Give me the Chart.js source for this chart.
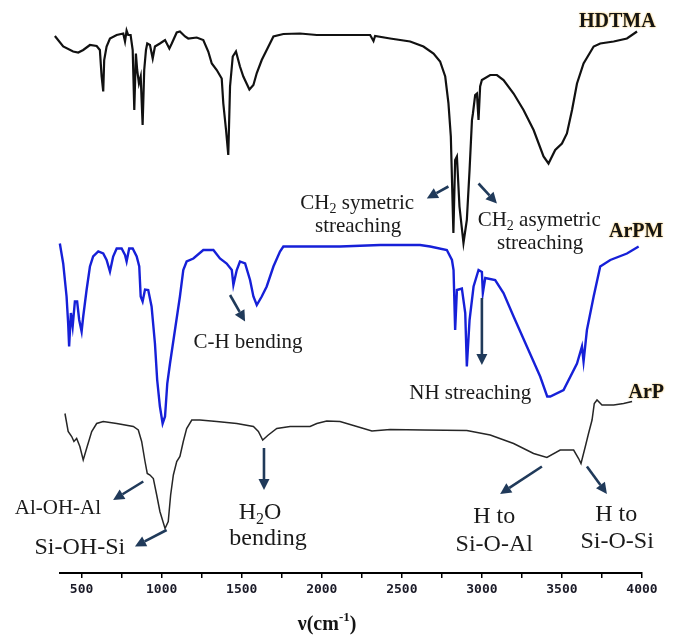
<!DOCTYPE html>
<html>
<head>
<meta charset="utf-8">
<script src="https://cdn.jsdelivr.net/npm/chart.js@4/dist/chart.umd.min.js"></script>
<style>
  html, body { margin: 0; padding: 0; background: #ffffff; }
  #wrap { width: 680px; height: 635px; }
</style>
</head>
<body>
<div id="wrap"><canvas id="c" width="680" height="635"></canvas></div>
<script>
// ---- Data (wavenumber in cm^-1, offset transmittance in arbitrary units) ----
const wnHDTMA = [333, 385, 447, 479, 510, 552, 594, 614, 625, 635, 641, 656, 677, 719, 760, 771, 781, 791, 806, 819, 829, 839, 847, 858, 869, 881, 891, 902, 910, 927, 944, 958, 989, 1021, 1048, 1063, 1094, 1114, 1146, 1166, 1219, 1260, 1291, 1313, 1344, 1375, 1385, 1402, 1416, 1427, 1444, 1464, 1489, 1510, 1548, 1573, 1594, 1625, 1656, 1698, 1760, 1864, 1969, 2177, 2302, 2323, 2333, 2427, 2552, 2635, 2698, 2739, 2771, 2791, 2806, 2822, 2833, 2844, 2860, 2885, 2906, 2923, 2938, 2944, 2958, 2969, 2979, 2989, 3000, 3052, 3094, 3135, 3198, 3260, 3323, 3385, 3416, 3458, 3500, 3531, 3563, 3594, 3635, 3698, 3739, 3823, 3906, 3969];
const tHDTMA = [107.4, 105.3, 104.3, 104.1, 104.6, 105.6, 105.4, 104.6, 99.3, 96.3, 102.6, 105.3, 106.9, 107.6, 107.9, 106.3, 108.5, 107.6, 107.6, 104.6, 92.6, 103.9, 100.6, 97.9, 99.3, 89.6, 100.6, 104.6, 105.9, 105.6, 102.9, 105.3, 105.9, 106.6, 104.9, 105.9, 108.1, 108.3, 107.3, 106.9, 107.1, 106.6, 104.3, 101.9, 100.6, 98.9, 93.9, 88.6, 83.6, 97.3, 103.3, 104.3, 101.3, 99.3, 96.7, 97.6, 100.0, 102.6, 104.6, 107.3, 107.8, 107.9, 107.6, 107.6, 107.6, 106.4, 107.4, 106.9, 106.3, 105.3, 103.9, 102.3, 99.3, 94.0, 87.3, 68.0, 82.6, 83.3, 73.3, 66.0, 70.6, 80.6, 90.6, 91.9, 95.6, 95.9, 90.6, 97.3, 98.6, 99.6, 99.6, 98.6, 95.9, 92.6, 88.6, 83.3, 81.9, 84.6, 85.9, 87.9, 92.6, 97.9, 101.9, 105.3, 105.9, 106.3, 106.9, 108.3];

const wnArPM = [364, 385, 406, 416, 422, 433, 444, 458, 472, 485, 500, 510, 531, 552, 572, 604, 635, 656, 677, 697, 719, 750, 771, 781, 797, 819, 844, 860, 869, 881, 896, 916, 937, 958, 972, 989, 1006, 1021, 1035, 1052, 1083, 1114, 1135, 1156, 1198, 1260, 1323, 1364, 1406, 1438, 1448, 1469, 1489, 1521, 1552, 1573, 1594, 1625, 1656, 1698, 1739, 1760, 1844, 2114, 2364, 2614, 2677, 2781, 2813, 2823, 2833, 2844, 2875, 2896, 2906, 2923, 2948, 2979, 3000, 3006, 3021, 3083, 3135, 3198, 3281, 3364, 3408, 3427, 3510, 3594, 3625, 3635, 3656, 3698, 3739, 3802, 3906, 3979];
const tArPM = [65.9, 61.9, 55.3, 49.9, 45.3, 52.0, 49.3, 54.3, 54.3, 50.6, 48.3, 51.3, 56.6, 61.3, 63.3, 64.3, 63.9, 62.6, 60.3, 63.3, 64.9, 64.9, 63.6, 62.3, 64.9, 64.9, 63.3, 61.3, 55.3, 54.3, 56.7, 56.6, 53.3, 45.9, 38.6, 33.3, 29.9, 31.3, 37.9, 41.9, 48.6, 55.3, 60.6, 62.3, 62.9, 64.6, 64.6, 62.9, 61.9, 60.6, 57.6, 60.6, 62.3, 61.9, 58.6, 55.3, 53.6, 55.3, 57.3, 61.3, 64.3, 65.3, 65.3, 65.3, 65.6, 65.6, 65.3, 64.6, 62.6, 60.6, 48.6, 56.6, 56.9, 52.0, 41.3, 50.6, 57.3, 60.6, 60.2, 56.0, 59.0, 58.6, 56.0, 51.3, 45.3, 39.3, 35.3, 35.3, 36.6, 41.9, 45.3, 42.3, 48.6, 55.3, 61.3, 62.6, 63.9, 65.3];

const wnArP = [396, 416, 438, 452, 469, 489, 510, 531, 563, 594, 635, 719, 823, 854, 875, 896, 910, 927, 948, 969, 989, 1021, 1041, 1056, 1073, 1094, 1114, 1135, 1156, 1188, 1239, 1344, 1469, 1573, 1604, 1631, 1666, 1719, 1802, 1927, 1969, 2031, 2114, 2219, 2313, 2427, 2635, 2906, 3052, 3198, 3323, 3406, 3489, 3573, 3604, 3619, 3646, 3666, 3688, 3702, 3719, 3750, 3823, 3885, 3938];
const tArP = [31.9, 28.3, 27.3, 26.3, 26.9, 25.3, 22.6, 24.9, 28.3, 29.9, 30.3, 29.9, 29.3, 28.6, 26.3, 22.3, 19.9, 19.6, 18.9, 15.6, 12.3, 8.9, 10.3, 15.6, 19.6, 22.3, 23.3, 26.3, 28.9, 30.6, 30.6, 30.3, 29.9, 29.3, 28.3, 26.6, 27.6, 28.9, 29.3, 29.3, 29.9, 30.4, 30.3, 29.3, 28.4, 28.7, 28.6, 28.5, 27.6, 25.9, 23.9, 23.1, 24.6, 24.6, 22.9, 21.9, 25.3, 27.9, 30.6, 33.9, 34.6, 33.6, 33.6, 33.9, 34.3];

const seriesNames = ['HDTMA', 'ArPM', 'ArP'];
const tickLabelValues = [500, 1000, 1500, 2000, 2500, 3000, 3500, 4000];
const xTitle = ['ν(cm', '-1', ')'];

// annotation texts: [segments, wavenumber, level, fontSize]
const annoTexts = [
  [[['CH'], ['2', 'sub'], [' symetric']], 2221, 74.2, 21],
  [[['streaching']], 2227, 69.6, 21],
  [[['CH'], ['2', 'sub'], [' asymetric']], 3358, 70.8, 21],
  [[['streaching']], 3364, 66.2, 21],
  [[['C-H bending']], 1539, 46.4, 21],
  [[['NH streaching']], 2927, 36.2, 21],
  [[['Al-OH-Al']], 352, 13.2, 21],
  [[['Si-OH-Si']], 489, 5.4, 24],
  [[['H'], ['2', 'sub'], ['O']], 1614, 12.4, 24],
  [[['bending']], 1664, 7.2, 24],
  [[['H to']], 3077, 11.6, 24],
  [[['Si-O-Al']], 3077, 6.0, 24],
  [[['H to']], 3839, 12.0, 24],
  [[['Si-O-Si']], 3845, 6.6, 24]
];
// arrows: [wn from, level from, wn to, level to]
const annoArrows = [
  [2791, 77.3, 2656, 74.9],
  [2979, 77.9, 3094, 73.9],
  [1427, 55.6, 1521, 50.3],
  [3000, 55.0, 3000, 41.6],
  [885, 18.3, 697, 14.6],
  [1031, 8.6, 833, 5.3],
  [1639, 25.0, 1639, 16.6],
  [3375, 21.3, 3114, 15.8],
  [3656, 21.3, 3781, 15.8]
];
// series labels: [name index, wn, level]
const seriesLabelPos = [[0, 3846, 110.6], [1, 3964, 68.6], [2, 4027, 36.4]];

const toXY = (xs, ys) => xs.map((x, i) => ({ x: x, y: ys[i] }));

const SERIF = '"Liberation Serif", "Times New Roman", serif';

function drawRich(ctx, segs, cx, cy, size, bold, color) {
  const w = bold ? 'bold ' : '';
  let total = 0;
  const parts = segs.map(s => {
    const small = s[1] === 'sub' || s[1] === 'sup';
    const fs = small ? Math.round(size * 0.65) : size;
    ctx.font = w + fs + 'px ' + SERIF;
    const width = ctx.measureText(s[0]).width;
    total += width;
    return { t: s[0], fs, width, kind: s[1] };
  });
  let x = cx - total / 2;
  const base = cy + size * 0.33;
  ctx.fillStyle = color;
  ctx.textBaseline = 'alphabetic';
  ctx.textAlign = 'left';
  parts.forEach(p => {
    ctx.font = w + p.fs + 'px ' + SERIF;
    let yy = base;
    if (p.kind === 'sub') yy = base + size * 0.2;
    if (p.kind === 'sup') yy = base - size * 0.42;
    ctx.fillText(p.t, x, yy);
    x += p.width;
  });
}

function drawArrow(ctx, x1, y1, x2, y2, color) {
  const ang = Math.atan2(y2 - y1, x2 - x1);
  const hl = 11, hw = 5.5;
  const bx = x2 - hl * Math.cos(ang), by = y2 - hl * Math.sin(ang);
  ctx.strokeStyle = color;
  ctx.fillStyle = color;
  ctx.lineWidth = 2.6;
  ctx.beginPath();
  ctx.moveTo(x1, y1);
  ctx.lineTo(bx, by);
  ctx.stroke();
  ctx.beginPath();
  ctx.moveTo(x2, y2);
  ctx.lineTo(bx + hw * Math.sin(ang), by - hw * Math.cos(ang));
  ctx.lineTo(bx - hw * Math.sin(ang), by + hw * Math.cos(ang));
  ctx.closePath();
  ctx.fill();
}

const annotationPlugin = {
  id: 'ftirAnno',
  afterDatasetsDraw(chart) {
    const ctx = chart.ctx;
    const xs = chart.scales.x, ys = chart.scales.y;
    ctx.save();
    annoArrows.forEach(a => {
      drawArrow(ctx, xs.getPixelForValue(a[0]), ys.getPixelForValue(a[1]),
                xs.getPixelForValue(a[2]), ys.getPixelForValue(a[3]), '#203a5a');
    });
    annoTexts.forEach(t => {
      drawRich(ctx, t[0], xs.getPixelForValue(t[1]), ys.getPixelForValue(t[2]), t[3], false, '#1a1a1a');
    });
    seriesLabelPos.forEach(s => {
      ctx.save();
      ctx.shadowColor = 'rgba(235,165,20,0.9)';
      ctx.shadowBlur = 2;
      drawRich(ctx, [[seriesNames[s[0]]]], xs.getPixelForValue(s[1]), ys.getPixelForValue(s[2]), 20, true, '#141414');
      ctx.restore();
    });
    // axis title
    drawRich(ctx, [[xTitle[0]], [xTitle[1], 'sup'], [xTitle[2]]],
             xs.getPixelForValue(2033), chart.height - 12, 20, true, '#141414');
    ctx.restore();
  }
};

new Chart(document.getElementById('c'), {
  type: 'line',
  data: {
    datasets: [
      { label: seriesNames[0], data: toXY(wnHDTMA, tHDTMA), borderColor: '#111111', borderWidth: 2.2, clip: false },
      { label: seriesNames[1], data: toXY(wnArPM, tArPM), borderColor: '#1620d8', borderWidth: 2.4, clip: false },
      { label: seriesNames[2], data: toXY(wnArP, tArP), borderColor: '#262626', borderWidth: 1.5, clip: false }
    ]
  },
  options: {
    responsive: false,
    devicePixelRatio: 1,
    animation: false,
    parsing: false,
    elements: { point: { radius: 0 }, line: { tension: 0, fill: false } },
    layout: { padding: { left: 60, right: 38, top: 18, bottom: 0 } },
    plugins: { legend: { display: false }, tooltip: { enabled: false } },
    scales: {
      x: {
        type: 'linear',
        min: 365,
        max: 4000,
        border: { display: true, color: '#000000', width: 2 },
        grid: { drawOnChartArea: false, drawTicks: true, tickLength: 5, color: '#000000', lineWidth: 1.5 },
        ticks: {
          stepSize: 250,
          includeBounds: false,
          autoSkip: false,
          maxRotation: 0,
          padding: 4,
          color: '#1b1b28',
          font: { family: '"DejaVu Sans Mono", monospace', size: 13, weight: 'bold' },
          callback: (v) => tickLabelValues.includes(v) ? String(v) : ''
        },
        afterFit: (s) => { s.height = 62; }
      },
      y: { type: 'linear', display: false, min: 0, max: 111 }
    }
  },
  plugins: [annotationPlugin]
});
</script>
</body>
</html>
